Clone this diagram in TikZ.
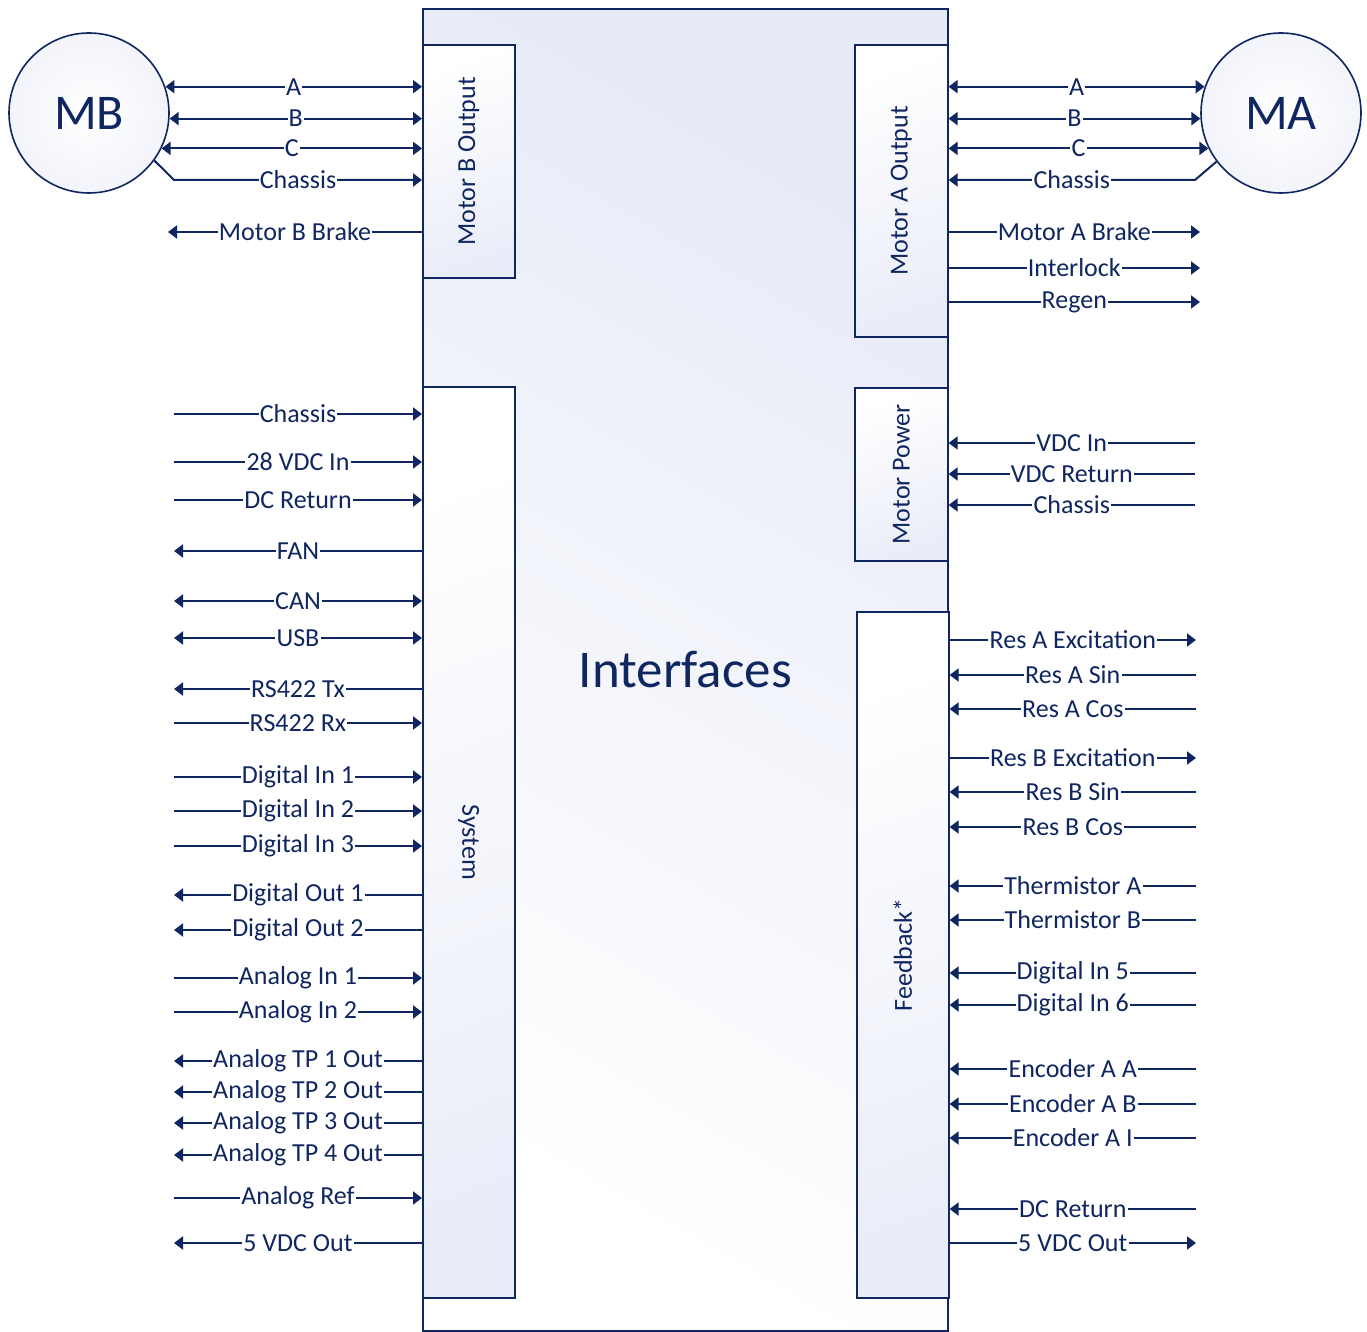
\documentclass[tikz,border=0pt]{standalone}
\usepackage{fontspec}
\setmainfont{Carlito}
\usetikzlibrary{arrows.meta}
\definecolor{navy}{RGB}{16,38,96}
\definecolor{paleblue}{RGB}{226,231,245}
\tikzset{
  panel/.style={draw=navy, line width=0.8pt, inner sep=0pt, anchor=north west, text=navy,
    shading=axis, top color=white, bottom color=paleblue!75, shading angle=20},
  motor/.style={circle, draw=navy, line width=0.8pt, minimum size=80pt, inner sep=0pt, text=navy,
    inner color=white, outer color=paleblue!45, font=\fontsize{25pt}{28pt}\selectfont},
  sig/.style={draw=navy, line width=1pt},
  tobox/.style={-{Triangle[length=4.5pt,width=6.5pt]}},
  frombox/.style={{Triangle[length=4.5pt,width=6.5pt]}-},
  twoway/.style={{Triangle[length=4.5pt,width=6.5pt]}-{Triangle[length=4.5pt,width=6.5pt]}},
  lbl/.style={fill=white, inner sep=0.6pt, text=navy},
}
\begin{document}
\begin{tikzpicture}[x=0.5pt, y=-0.5pt, font=\fontsize{13pt}{15pt}\selectfont]
  \useasboundingbox (0,0) rectangle (1367,1332);

  %%% boxes
  \node[panel, minimum width=262.5pt, minimum height=661pt, top color=paleblue!85, bottom color=white,
    shading angle=-30, font=\fontsize{26.5pt}{30pt}\selectfont] (ifc) at (422,8) {Interfaces};
  \node[panel, minimum width=46pt, minimum height=116.5pt] (mbo) at (422,44) {\rotatebox{90}{Motor B Output}};
  \node[panel, minimum width=46pt, minimum height=455.5pt] (sys) at (422,386) {\rotatebox{-90}{System}};
  \node[panel, minimum width=46.5pt, minimum height=146pt] (mao) at (854,44) {\rotatebox{90}{Motor A Output}};
  \node[panel, minimum width=46.5pt, minimum height=86.5pt] (mpw) at (854,387) {\rotatebox{90}{Motor Power}};
  \node[panel, minimum width=46pt, minimum height=343pt] (fbk) at (856,611) {\rotatebox{90}{Feedback*}};

  %%% motors
  \node[motor] (mb) at (89,113) {MB};
  \node[motor] (ma) at (1281,113) {MA};

  %% motor B side
  \draw[sig,twoway] (mb.19) -- node[lbl]{A} (mb.19 -| mbo.west);
  \draw[sig,twoway] (mb.-4) -- node[lbl]{B} (mb.-4 -| mbo.west);
  \draw[sig,twoway] (mb.-26) -- node[lbl]{C} (mb.-26 -| mbo.west);
  \coordinate (mbk) at (174,180);
  \draw[sig,tobox] (mb.-36) -- (mbk) -- node[lbl]{Chassis} (mbk -| mbo.west);
  \coordinate (mbb) at (168,232);
  \draw[sig,frombox] (mbb) -- node[lbl]{Motor B Brake} (mbb -| mbo.west);

  %% motor A side
  \draw[sig,twoway] (ma.161) -- node[lbl]{A} (ma.161 -| mao.east);
  \draw[sig,twoway] (ma.184) -- node[lbl]{B} (ma.184 -| mao.east);
  \draw[sig,twoway] (ma.206) -- node[lbl]{C} (ma.206 -| mao.east);
  \coordinate (mak) at (1195,180);
  \draw[sig,tobox] (ma.217) -- (mak) -- node[lbl]{Chassis} (mak -| mao.east);
  \foreach \y/\txt in {232/Motor A Brake, 268/Interlock, 302/Regen} {
    \coordinate (ao\y) at (1200,\y);
    \draw[sig,frombox] (ao\y) -- node[lbl]{\txt} (ao\y -| mao.east);
  }

  %% system signals
  \foreach \y/\txt/\dir in {414/Chassis/tobox, 462/28 VDC In/tobox, 500/DC Return/tobox,
      551/FAN/frombox, 601/CAN/twoway, 638/USB/twoway, 689/RS422 Tx/frombox, 723/RS422 Rx/tobox,
      777/Digital In 1/tobox, 811/Digital In 2/tobox, 846/Digital In 3/tobox,
      895/Digital Out 1/frombox, 930/Digital Out 2/frombox,
      978/Analog In 1/tobox, 1012/Analog In 2/tobox,
      1061/Analog TP 1 Out/frombox, 1092/Analog TP 2 Out/frombox,
      1123/Analog TP 3 Out/frombox, 1155/Analog TP 4 Out/frombox,
      1198/Analog Ref/tobox, 1243/5 VDC Out/frombox} {
    \coordinate (sl\y) at (174,\y);
    \draw[sig,\dir] (sl\y) -- node[lbl]{\txt} (sl\y -| sys.west);
  }

  %% motor power
  \foreach \y/\txt in {443/VDC In, 474/VDC Return, 505/Chassis} {
    \coordinate (mp\y) at (1195,\y);
    \draw[sig,tobox] (mp\y) -- node[lbl]{\txt} (mp\y -| mpw.east);
  }

  %% feedback
  \foreach \y/\txt/\dir in {640/Res A Excitation/frombox, 675/Res A Sin/tobox, 709/Res A Cos/tobox,
      758/Res B Excitation/frombox, 792/Res B Sin/tobox, 827/Res B Cos/tobox,
      886/Thermistor A/tobox, 920/Thermistor B/tobox,
      973/Digital In 5/tobox, 1005/Digital In 6/tobox,
      1069/Encoder A A/tobox, 1104/Encoder A B/tobox, 1138/Encoder A I/tobox,
      1209/DC Return/tobox, 1243/5 VDC Out/frombox} {
    \coordinate (fb\y) at (1196,\y);
    \draw[sig,\dir] (fb\y) -- node[lbl]{\txt} (fb\y -| fbk.east);
  }
\end{tikzpicture}
\end{document}
